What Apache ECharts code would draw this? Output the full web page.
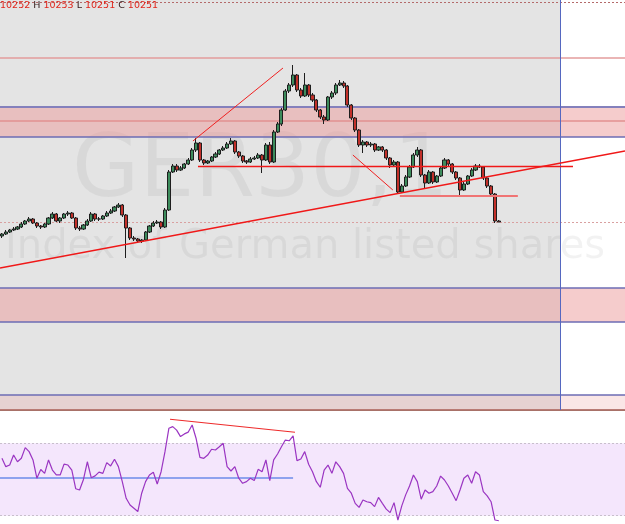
<!DOCTYPE html>
<html><head><meta charset="utf-8">
<script src="https://cdn.jsdelivr.net/npm/echarts@6/dist/echarts.min.js"></script>
<style>html,body{margin:0;padding:0;background:#fff}#c{width:625px;height:524px}</style>
</head><body><div id="c"></div>
<script>
// ---- price data (one candle per bar index) ----
const opens=[10237,10239,10241,10243,10244,10246,10249,10252,10254,10250,
10247,10246,10249,10255,10259,10252,10255,10259,10260,10255,
10245,10244,10248,10252,10259,10254,10254,10257,10260,10262,
10266,10268,10258,10245,10235,10234,10232,10233,10241,10247,
10250,10251,10246,10263,10301,10307,10303,10305,10309,10313,
10323,10330,10313,10310,10312,10316,10319,10323,10325,10329,
10332,10321,10317,10312,10311,10314,10315,10318,10313,10328,
10311,10341,10349,10363,10382,10388,10398,10383,10377,10388,
10378,10373,10363,10356,10353,10376,10380,10388,10390,10387,
10368,10355,10343,10328,10331,10328,10329,10323,10326,10323,
10315,10308,10311,10281,10287,10296,10306,10318,10323,10298,
10290,10301,10291,10297,10305,10313,10309,10301,10295,10283,
10289,10297,10303,10307,10306,10295,10287,10279,10252];
const closes=[10239,10241,10243,10244,10246,10249,10252,10254,10250,10247,
10246,10249,10255,10259,10252,10255,10259,10260,10255,10245,
10244,10248,10252,10259,10254,10254,10257,10260,10262,10266,
10268,10258,10245,10235,10234,10232,10233,10241,10247,10250,
10251,10246,10263,10301,10307,10303,10305,10309,10313,10323,
10330,10313,10310,10312,10316,10319,10323,10325,10329,10332,
10321,10317,10312,10311,10314,10315,10318,10313,10328,10311,
10341,10349,10363,10382,10388,10398,10383,10377,10388,10378,
10373,10363,10356,10353,10376,10380,10388,10390,10387,10368,
10355,10343,10328,10331,10328,10329,10323,10326,10323,10315,
10308,10311,10281,10287,10296,10306,10318,10323,10298,10290,
10301,10291,10297,10305,10313,10309,10301,10295,10283,10289,
10297,10303,10307,10306,10295,10287,10279,10252,10251];
const lows=[10235,10238,10240,10242,10243,10245,10248,10251,10249,10245,
10244,10245,10248,10254,10251,10250,10254,10257,10254,10243,
10242,10243,10247,10251,10252,10252,10253,10256,10259,10261,
10265,10256,10215,10233,10232,10230,10230,10232,10240,10246,
10249,10244,10245,10262,10300,10301,10302,10304,10308,10312,
10321,10311,10308,10309,10311,10315,10318,10322,10324,10328,
10319,10315,10310,10309,10310,10313,10314,10300,10312,10309,
10310,10340,10347,10362,10380,10386,10381,10375,10376,10376,
10371,10361,10354,10349,10352,10374,10378,10387,10385,10366,
10353,10341,10326,10320,10326,10326,10321,10322,10321,10313,
10305,10306,10279,10280,10286,10295,10305,10316,10296,10285,
10289,10289,10290,10296,10304,10307,10299,10293,10278,10282,
10288,10296,10302,10305,10293,10285,10277,10250,10251];
const highs=[10240,10243,10244,10246,10247,10251,10253,10256,10255,10251,
10248,10250,10256,10261,10260,10256,10260,10262,10261,10256,
10247,10249,10254,10261,10260,10256,10258,10262,10264,10267,
10270,10269,10259,10246,10237,10235,10234,10242,10248,10252,
10253,10252,10265,10303,10309,10309,10307,10310,10315,10325,
10335,10331,10314,10313,10317,10321,10324,10327,10331,10335,
10333,10322,10318,10313,10316,10317,10320,10319,10330,10331,
10343,10351,10365,10384,10390,10408,10399,10385,10400,10389,
10380,10374,10364,10358,10377,10382,10390,10393,10392,10388,
10369,10356,10344,10333,10332,10331,10330,10327,10327,10324,
10316,10313,10312,10289,10298,10308,10320,10326,10324,10299,
10303,10302,10298,10307,10315,10314,10310,10302,10296,10291,
10298,10305,10309,10309,10307,10296,10288,10280,10253];
// ---- RSI values ----
const rsi=[61.7,57.1,58,63.5,59.8,61.7,67.6,65.4,60.8,50.7,
55.5,53.4,60.8,55.2,52.5,52.5,58.5,58,55.2,44.9,
44.2,50,59.8,51,52,54.1,53.4,59.3,57.5,61.2,
57.1,48.8,39.6,35.9,34.1,32.3,42.4,48.8,52.5,54,
47.5,54.3,65.4,78.3,79.2,77.3,73.7,75.2,76.2,80.1,
72.8,62.2,61.7,63.5,66.7,66.3,68.1,70,57.1,54.7,
57.1,50.7,47.9,48.8,50.7,49.4,55.6,54.3,60.8,49.4,
60.8,64.1,68.1,71.8,71.4,74.1,60.4,61.3,65.4,58.4,
54.3,48.8,45.7,55.2,58,53.4,59.8,57.1,53.4,45.1,
42.4,36.8,34.6,38.7,37.7,37.2,35,40.1,36.8,33.6,
31.7,37.2,27.6,35.4,41.5,46.4,52.5,48.8,39.1,44.2,
42.4,43.3,46.4,51.9,49.7,46.4,42.4,38.3,44.2,50.7,
52.5,47.9,54.3,52.5,43.3,40.9,37.7,27.6,27.2];
// ---- axis ranges / levels ----
const barRange=[-0.5,160.5];
const priceRange=[10063,10473];
const rsiRange=[25.4,87.3];
const headerValues={O:10252,H:10253,L:10251,C:10251};
const topLine=10471;
const resistance=10415;
const zoneUpper=[10336,10366], zoneUpperMid=10352;
const zoneLower=[10151,10185];
const zoneBottom=[10063,10078];
const lastPrice=10251;
const sessionEnd=143.75;
const trendUp=[[49.2,10332],[72.4,10405]];
const neckline=[[50.5,10307],[147.1,10307]];
const trendLong=[[-0.5,10205],[160.5,10322]];
const trendDown=[[90.4,10318],[100.7,10283]];
const supportShort=[[102.5,10277],[132.9,10277]];
const rsiLevels=[30,70];
const rsiMid=[[-0.5,51.2],[75,51.2]];
const rsiDiv=[[43.3,83.3],[75.5,76.1]];

const candleData=opens.map((o,i)=>[i,o,closes[i],lows[i],highs[i]]);
const rsiData=rsi.map((v,i)=>[i,v]);
const seg=(pts,style)=>[{coord:pts[0],lineStyle:style},{coord:pts[1]}];
const ML=(data,z)=>({silent:true,symbol:['none','none'],label:{show:false},z:z,animation:false,data:data});

const chart=echarts.init(document.getElementById('c'),null,{renderer:'canvas'});
const pink='rgba(236,157,157,0.52)';
const blueLine={color:'#6c6cb4',width:1.5,type:'solid'};
const wm='rgba(0,0,0,0.05)';
chart.setOption({
  animation:false,
  grid:[{left:0,right:0,top:0,height:410},{left:0,right:0,top:412,height:112}],
  xAxis:[
    {type:'value',gridIndex:0,min:barRange[0],max:barRange[1],axisLabel:{show:false},axisTick:{show:false},splitLine:{show:false},
     axisLine:{show:true,onZero:false,lineStyle:{color:'#a87168',width:2}}},
    {type:'value',gridIndex:1,min:barRange[0],max:barRange[1],show:false,splitLine:{show:false}}
  ],
  yAxis:[
    {type:'value',gridIndex:0,min:priceRange[0],max:priceRange[1],show:false,splitLine:{show:false}},
    {type:'value',gridIndex:1,min:rsiRange[0],max:rsiRange[1],show:false,splitLine:{show:false}}
  ],
  graphic:[
    {type:'text',x:72,y:173,z:1,silent:true,style:{text:'GER30,1',font:'87px "DejaVu Sans"',fill:wm,verticalAlign:'middle'}},
    {type:'text',x:5,y:248,z:1,silent:true,style:{text:'Index of German listed shares',font:'40px "DejaVu Sans"',fill:wm,verticalAlign:'middle'}},
    {type:'text',x:0,y:6,z:10,silent:true,style:{
      text:'{v|'+headerValues.O+'} {k|H} {v|'+headerValues.H+'} {k|L} {v|'+headerValues.L+'} {k|C} {v|'+headerValues.C+'}',
      font:'9.5px "DejaVu Sans"',verticalAlign:'middle',
      rich:{v:{fill:'#e0261c',font:'9.5px "DejaVu Sans"'},k:{fill:'#3a2020',font:'9.5px "DejaVu Sans"'}}}}
  ],
  series:[
    {type:'line',xAxisIndex:0,yAxisIndex:0,data:[],z:0,silent:true,
     markArea:{silent:true,z:0,itemStyle:{color:'#e4e4e4'},label:{show:false},
       data:[[{xAxis:barRange[0],yAxis:priceRange[0]},{xAxis:sessionEnd,yAxis:priceRange[1]}]]}},
    {type:'line',xAxisIndex:0,yAxisIndex:0,data:[],z:1,silent:true,
     markArea:{silent:true,z:1,label:{show:false},
       data:[
        [{xAxis:barRange[0],yAxis:zoneUpper[0],itemStyle:{color:pink}},{xAxis:barRange[1],yAxis:zoneUpper[1]}],
        [{xAxis:barRange[0],yAxis:zoneLower[0],itemStyle:{color:pink}},{xAxis:barRange[1],yAxis:zoneLower[1]}],
        [{xAxis:barRange[0],yAxis:zoneBottom[0],itemStyle:{color:'rgba(236,157,157,0.25)'}},{xAxis:barRange[1],yAxis:zoneBottom[1]}]
       ]},
     markLine:ML([
       {yAxis:topLine,lineStyle:{color:'#b46a6a',width:1,type:[2,2]}},
       {yAxis:resistance,lineStyle:{color:'#e39c9c',width:1.5,type:'solid'}},
       {yAxis:zoneUpper[1],lineStyle:Object.assign({},blueLine,{color:'#8480bc',width:2})},
       {yAxis:zoneUpperMid,lineStyle:{color:'#e29090',width:1.5,type:'solid'}},
       {yAxis:zoneUpper[0],lineStyle:blueLine},
       {yAxis:zoneLower[1],lineStyle:blueLine},
       {yAxis:zoneLower[0],lineStyle:blueLine},
       {yAxis:zoneBottom[1],lineStyle:blueLine},
       {yAxis:lastPrice,lineStyle:{color:'#d9a0a0',width:1,type:[2,2]}},
       {xAxis:sessionEnd,lineStyle:{color:'#5567c0',width:1,type:'solid'}}
     ],1)},
    {type:'candlestick',xAxisIndex:0,yAxisIndex:0,z:2,barWidth:3.6,encode:{x:0,y:[1,2,3,4]},data:candleData,
     itemStyle:{color:'#3d8c5c',color0:'#c2302a',borderColor:'#1e1e1e',borderColor0:'#1e1e1e',borderWidth:1}},
    {type:'line',xAxisIndex:0,yAxisIndex:0,data:[],z:5,silent:true,
     markLine:ML([
       seg(trendUp,{color:'#f02020',width:1,type:'solid'}),
       seg(neckline,{color:'#f01818',width:1.3,type:'solid'}),
       seg(trendLong,{color:'#f01818',width:1.3,type:'solid'}),
       seg(trendDown,{color:'#f02020',width:1,type:'solid'}),
       seg(supportShort,{color:'#f07474',width:2,type:'solid'})
     ],5)},
    {type:'line',xAxisIndex:1,yAxisIndex:1,data:[],z:1,silent:true,
     markArea:{silent:true,z:1,label:{show:false},itemStyle:{color:'#f4e6fc'},
       data:[[{xAxis:barRange[0],yAxis:rsiLevels[0]},{xAxis:barRange[1],yAxis:rsiLevels[1]}]]},
     markLine:ML([
       {yAxis:rsiLevels[0],lineStyle:{color:'#c8bfcc',width:1,type:[2,2]}},
       {yAxis:rsiLevels[1],lineStyle:{color:'#c8bfcc',width:1,type:[2,2]}},
       seg(rsiMid,{color:'#8ea2ee',width:2,type:'solid'})
     ],2)},
    {type:'line',xAxisIndex:1,yAxisIndex:1,z:4,data:rsiData,showSymbol:false,symbol:'none',silent:true,
     lineStyle:{color:'#9a35c2',width:1.2}},
    {type:'line',xAxisIndex:1,yAxisIndex:1,data:[],z:5,silent:true,
     markLine:ML([seg(rsiDiv,{color:'#ee2a2a',width:1.2,type:'solid'})],5)}
  ]
});
</script></body></html>
